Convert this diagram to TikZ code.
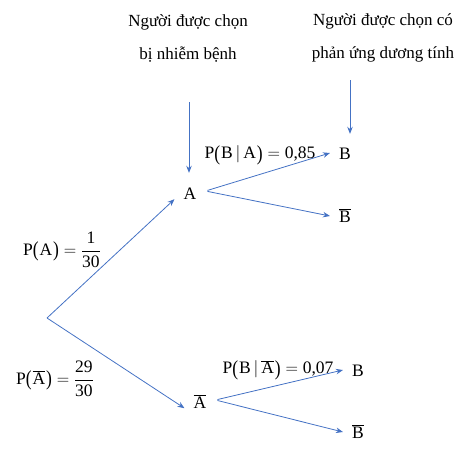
\documentclass[tikz,border=0pt]{standalone}
\usepackage{fontspec}
\setmainfont{Liberation Serif}
\usetikzlibrary{arrows.meta}
\definecolor{branchblue}{HTML}{4472C4}
\newcommand\lpar{\mathopen{\raisebox{-1.3pt}{\scalebox{1}[1.22]{(}}}\mkern1mu}
\newcommand\rpar{\mkern1mu\mathclose{\raisebox{-1.3pt}{\scalebox{1}[1.22]{)}}}}

\begin{document}
\begin{tikzpicture}[x=1pt,y=-1pt,
    font=\fontsize{17.5}{21}\selectfont,
    event/.style={inner xsep=9pt, inner ysep=0pt, text height=16pt, text depth=0pt},
    conn/.style={draw=branchblue, line width=0.8pt, -{Stealth[length=7pt,width=5.5pt]}},
    heading/.style={align=center, font=\fontsize{17}{33}\selectfont}]

  \useasboundingbox (0,0) rectangle (475,459);

  % tree
  \coordinate (O) at (47,318);
  \node[event] (A)   at (190,191) {A};
  \node[event] (Ab)  at (200,400) {$\overline{\mathrm{A}}$};
  \node[event] (B1)  at (345,151) {B};
  \node[event] (B1b) at (345,214) {$\overline{\mathrm{B}}$};
  \node[event] (B2)  at (358,368) {B};
  \node[event] (B2b) at (358,430) {$\overline{\mathrm{B}}$};

  \draw[conn] (O) -- (A.south west);
  \draw[conn] (O) -- (Ab.south west);
  \foreach \s/\t in {A/B1, A/B1b, Ab/B2, Ab/B2b}
    \draw[conn, shorten <=2pt] (\s.east) -- ([yshift=-2pt]\t.west);

  % probabilities
  \node (pA)   at (62,250)  {$\mathrm{P}\lpar\mathrm{A}\rpar=\displaystyle\frac{\mathrm{1}}{\mathrm{30}}$};
  \node (pAb)  at (55,379)  {$\mathrm{P}\lpar\overline{\mathrm{A}}\rpar=\displaystyle\frac{\mathrm{29}}{\mathrm{30}}$};
  \node (pBA)  at (260,155) {$\mathrm{P}\lpar\mathrm{B}\,|\,\mathrm{A}\rpar=\mbox{0,85}$};
  \node (pBAb) at (278,370) {$\mathrm{P}\lpar\mathrm{B}\,|\,\overline{\mathrm{A}}\rpar=\mbox{0,07}$};

  % headings
  \node[heading] (T1) at (188,38) {Người được chọn\\bị nhiễm bệnh};
  \node[heading] (T2) at (383,38) {Người được chọn có\\phản ứng dương tính};
  \coordinate (t1) at (189,102);
  \coordinate (t2) at (350,80);
  \draw[conn, shorten >=10pt] (t1) -- (t1 |- A.north);
  \draw[conn, shorten >=9pt] (t2) -- (t2 |- B1.north);

\end{tikzpicture}
\end{document}
